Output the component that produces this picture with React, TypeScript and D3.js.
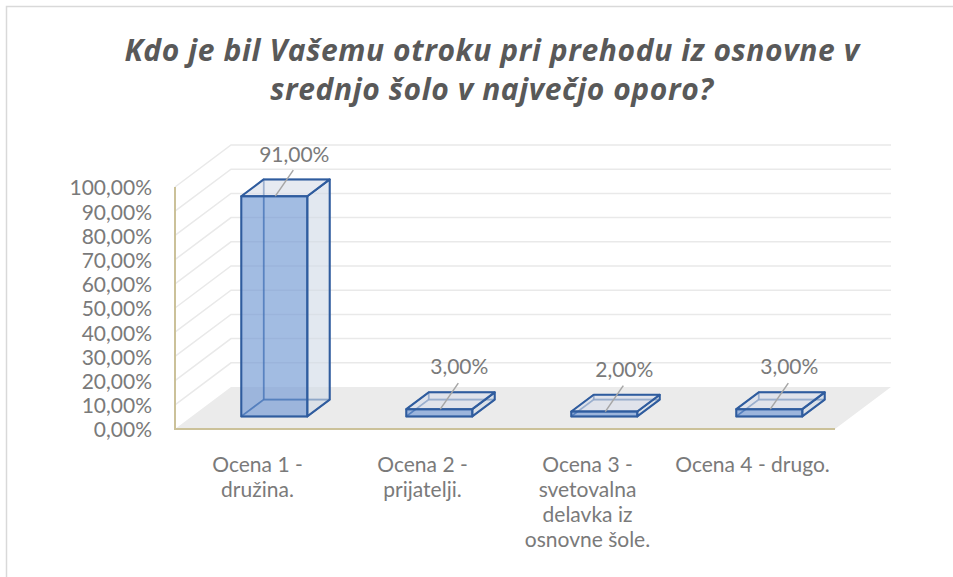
import { useEffect, useRef } from "react";
import * as d3 from "d3";

// chart data
const titleLines = [
  "Kdo je bil Vašemu otroku pri prehodu iz osnovne v",
  "srednjo šolo v največjo oporo?",
];
const categories = [
  "Ocena 1 - družina.",
  "Ocena 2 - prijatelji.",
  "Ocena 3 - svetovalna delavka iz osnovne šole.",
  "Ocena 4 - drugo.",
];
// wrapped category labels as shown under the axis
const categoryLines = [
  ["Ocena 1 -", "družina."],
  ["Ocena 2 -", "prijatelji."],
  ["Ocena 3 -", "svetovalna", "delavka iz", "osnovne šole."],
  ["Ocena 4 - drugo."],
];
const values = [0.91, 0.03, 0.02, 0.03];
const yTicks = [0, 0.1, 0.2, 0.3, 0.4, 0.5, 0.6, 0.7, 0.8, 0.9, 1.0];

const slFormat = d3.formatLocale({
  decimal: ",",
  thousands: ".",
  grouping: [3],
  currency: ["", " €"],
  percent: "%",
}).format(".2%");

export default function App() {
  const svgRef = useRef<SVGSVGElement>(null);

  useEffect(() => {
    if (!svgRef.current) return;
    const svg = d3.select(svgRef.current);
    svg.selectAll("*").remove();

    const width = 953;
    const height = 577;
    const font = "Lato, 'Open Sans', sans-serif";

    // front plane of the 3D box
    const x = d3
      .scaleBand<string>()
      .domain(categories)
      .range([175, 835])
      .paddingInner(0.6)
      .paddingOuter(0.3);
    const y = d3.scaleLinear().domain([0, 1]).range([429, 187]);

    // depth vector (front plane -> back wall)
    const DX = 56;
    const DY = -42;
    const proj = (px: number, py: number, t: number): [number, number] => [
      px + DX * t,
      py + DY * t,
    ];
    const poly = (pts: [number, number][]) =>
      "M" + pts.map((p) => p.join(",")).join("L") + "Z";

    svg.attr("width", width).attr("height", height);

    svg
      .append("rect")
      .attr("x", 0)
      .attr("y", 0)
      .attr("width", width)
      .attr("height", height)
      .attr("fill", "#fff");

    // chart border (cropped at right/bottom)
    svg
      .append("rect")
      .attr("x", 6.5)
      .attr("y", 6.5)
      .attr("width", 980)
      .attr("height", 600)
      .attr("fill", "#fff")
      .attr("stroke", "#d9d9d9")
      .attr("stroke-width", 1.5);

    const [x0, x1] = x.range();
    const gridColor = "#e9e9e9";

    // gridlines: left wall diagonals and back wall horizontals
    const grid = svg.append("g").attr("stroke", gridColor).attr("stroke-width", 1.5);
    yTicks.slice(1).forEach((v) => {
      const a = proj(x0, y(v), 0);
      const b = proj(x0, y(v), 1);
      const c = proj(x1, y(v), 1);
      grid.append("path").attr("fill", "none").attr("d", `M${a}L${b}L${c}`);
    });

    // floor
    svg
      .append("path")
      .attr("d", poly([proj(x0, y(0), 0), proj(x1, y(0), 0), proj(x1, y(0), 1), proj(x0, y(0), 1)]))
      .attr("fill", "#ebebeb");

    // axis lines
    const axisColor = "#cbc199";
    svg
      .append("path")
      .attr("d", `M${x0},${y(1)}L${x0},${y(0)}L${x1},${y(0)}`)
      .attr("fill", "none")
      .attr("stroke", axisColor)
      .attr("stroke-width", 2);

    // bars
    const t0 = 0.3;
    const t1 = 0.7;
    const edge = "#2f5c9e";
    const bars = svg.append("g");
    categories.forEach((cat, i) => {
      const bx0 = x(cat)!;
      const bx1 = bx0 + x.bandwidth();
      const yb = y(0);
      const yt = y(values[i]);
      const P = (px: number, py: number, t: number) => proj(px, py, t);
      const g = bars.append("g").attr("stroke-linejoin", "round");

      // hidden faces
      const hidden = [
        [P(bx0, yb, t1), P(bx1, yb, t1), P(bx1, yt, t1), P(bx0, yt, t1)],
        [P(bx0, yb, t0), P(bx0, yb, t1), P(bx0, yt, t1), P(bx0, yt, t0)],
        [P(bx0, yb, t0), P(bx1, yb, t0), P(bx1, yb, t1), P(bx0, yb, t1)],
      ];
      hidden.forEach((pts) =>
        g
          .append("path")
          .attr("d", poly(pts as [number, number][]))
          .attr("fill", "rgba(225,230,238,0.35)")
          .attr("stroke", edge)
          .attr("stroke-opacity", 0.55)
          .attr("stroke-width", 1.6)
      );

      // right side
      g.append("path")
        .attr("d", poly([P(bx1, yb, t0), P(bx1, yb, t1), P(bx1, yt, t1), P(bx1, yt, t0)]))
        .attr("fill", "rgba(205,214,228,0.45)")
        .attr("stroke", edge)
        .attr("stroke-width", 2);
      // top
      g.append("path")
        .attr("d", poly([P(bx0, yt, t0), P(bx1, yt, t0), P(bx1, yt, t1), P(bx0, yt, t1)]))
        .attr("fill", "rgba(215,222,234,0.5)")
        .attr("stroke", edge)
        .attr("stroke-width", 2);
      // front
      g.append("path")
        .attr("d", poly([P(bx0, yb, t0), P(bx1, yb, t0), P(bx1, yt, t0), P(bx0, yt, t0)]))
        .attr("fill", "rgba(80,130,204,0.5)")
        .attr("stroke", edge)
        .attr("stroke-width", 2);

      // data label with leader line
      const [fx, fy] = P(bx0 + x.bandwidth() / 2, yt, t0);
      svg
        .append("line")
        .attr("x1", fx + 1)
        .attr("y1", fy)
        .attr("x2", fx + 19)
        .attr("y2", fy - 26)
        .attr("stroke", "#a6a6a6")
        .attr("stroke-width", 1.5);
      svg
        .append("text")
        .attr("x", fx + 20)
        .attr("y", fy - 42)
        .attr("dy", "0.35em")
        .attr("text-anchor", "middle")
        .attr("fill", "#7a7a7a")
        .style("font-family", font)
        .style("font-size", "21px")
        .text(slFormat(values[i]));
    });

    // y tick labels
    svg
      .append("g")
      .selectAll("text")
      .data(yTicks)
      .enter()
      .append("text")
      .attr("x", 152)
      .attr("y", (d) => y(d) + 1)
      .attr("dy", "0.35em")
      .attr("text-anchor", "end")
      .attr("fill", "#7a7a7a")
      .style("font-family", font)
      .style("font-size", "21px")
      .text((d) => slFormat(d));

    // category labels
    categories.forEach((cat, i) => {
      const cx = x(cat)! + x.bandwidth() / 2;
      const t = svg
        .append("text")
        .attr("text-anchor", "middle")
        .attr("fill", "#7a7a7a")
        .style("font-family", font)
        .style("font-size", "21px");
      categoryLines[i].forEach((line, j) => {
        t.append("tspan")
          .attr("x", cx)
          .attr("y", 465 + j * 25)
          .attr("dy", "0.35em")
          .text(line);
      });
    });

    // title
    titleLines.forEach((line, j) => {
      svg
        .append("text")
        .attr("x", 492)
        .attr("y", 61 + j * 39)
        .attr("text-anchor", "middle")
        .attr("fill", "#595959")
        .style("font-family", "'Open Sans', Lato, sans-serif")
        .style("font-size", "30px")
        .style("font-weight", "bold")
        .style("font-style", "italic")
        .style("letter-spacing", "0.6px")
        .text(line);
    });
  }, []);

  return (
    <div style={{ position: "absolute", left: 0, top: 0 }}>
      <svg ref={svgRef} style={{ display: "block" }}></svg>
    </div>
  );
}
